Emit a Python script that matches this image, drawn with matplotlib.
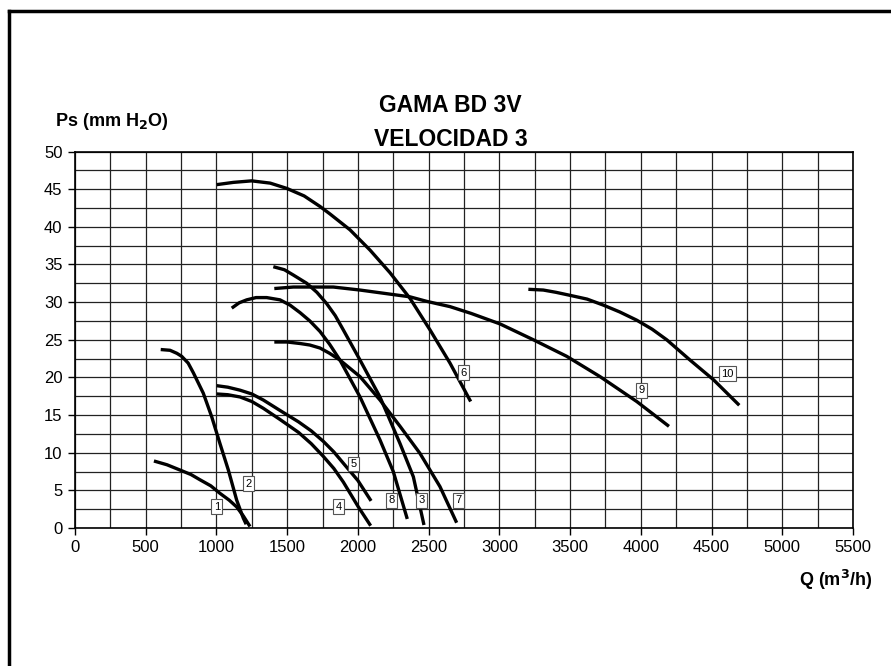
import matplotlib.pyplot as plt
from matplotlib.lines import Line2D
import numpy as np

plt.rcParams['font.family'] = ['Liberation Sans', 'DejaVu Sans']

# curves (Q in m3/h, Ps in mm H2O)
q1 = [558, 650, 742, 820, 884, 960, 1025, 1090, 1143, 1190, 1237]
p1 = [8.9, 8.4, 7.7, 7.1, 6.4, 5.6, 4.6, 3.7, 2.8, 1.6, 0.2]

q2 = [606, 672, 720, 754, 800, 837, 907, 966, 1025, 1084, 1143, 1190, 1210]
p2 = [23.7, 23.6, 23.2, 22.8, 21.9, 20.6, 17.9, 14.8, 11.2, 7.7, 3.7, 1.3, 0.5]

q3 = [1402, 1480, 1543, 1638, 1710, 1779, 1840, 1897, 2015, 2156, 2298, 2392, 2467]
p3 = [34.7, 34.3, 33.6, 32.5, 31.3, 29.8, 28.2, 26.3, 22.3, 17.4, 11.2, 6.8, 0.4]

q4 = [1002, 1080, 1167, 1250, 1331, 1450, 1580, 1670, 1756, 1830, 1897, 2003, 2090]
p4 = [17.8, 17.7, 17.4, 16.8, 15.9, 14.4, 12.7, 11.2, 9.5, 7.9, 6.1, 2.8, 0.3]

q5 = [1002, 1080, 1167, 1250, 1331, 1450, 1580, 1670, 1756, 1830, 1897, 2000, 2093]
p5 = [18.9, 18.7, 18.3, 17.8, 17.0, 15.6, 14.1, 12.9, 11.5, 10.1, 8.6, 6.3, 3.6]

q6 = [1002, 1120, 1249, 1380, 1497, 1620, 1732, 1803, 1944, 2086, 2227, 2368, 2510, 2651, 2797]
p6 = [45.6, 45.9, 46.1, 45.8, 45.1, 44.1, 42.7, 41.7, 39.6, 36.9, 33.9, 30.5, 26.3, 21.9, 16.8]

q7 = [1409, 1500, 1591, 1660, 1732, 1800, 1873, 2015, 2156, 2298, 2439, 2580, 2698]
p7 = [24.7, 24.7, 24.5, 24.3, 23.9, 23.2, 22.3, 20.1, 17.0, 13.5, 9.9, 5.5, 0.7]

q8 = [1108, 1160, 1214, 1280, 1355, 1449, 1520, 1591, 1660, 1732, 1800, 1873, 2015, 2156, 2250, 2349]
p8 = [29.2, 29.9, 30.3, 30.6, 30.6, 30.3, 29.6, 28.6, 27.5, 26.1, 24.4, 22.3, 17.4, 11.7, 7.5, 1.2]

q9 = [1409, 1543, 1700, 1826, 2015, 2250, 2368, 2486, 2651, 2800, 3005, 3240, 3476, 3712, 3971, 4199]
p9 = [31.8, 32.0, 32.0, 32.0, 31.6, 31.0, 30.7, 30.1, 29.4, 28.5, 27.1, 25.0, 22.8, 20.1, 16.8, 13.5]

q10 = [3205, 3311, 3400, 3499, 3620, 3735, 3850, 3971, 4080, 4183, 4348, 4513, 4696]
p10 = [31.7, 31.6, 31.3, 30.9, 30.4, 29.6, 28.7, 27.6, 26.4, 25.0, 22.3, 19.7, 16.3]

curves = [(q1, p1), (q2, p2), (q3, p3), (q4, p4), (q5, p5),
          (q6, p6), (q7, p7), (q8, p8), (q9, p9), (q10, p10)]

# number tags
tag_names = ["1", "2", "3", "4", "5", "6", "7", "8", "9", "10"]
tag_q = [1002, 1225, 2451, 1862, 1968, 2745, 2710, 2239, 4006, 4614]
tag_p = [2.8, 5.9, 3.7, 2.8, 8.5, 20.6, 3.7, 3.7, 18.3, 20.5]

W, H = 891, 666
fig = plt.figure(figsize=(W / 100, H / 100), dpi=100)
ax = fig.add_axes([75 / W, 1 - 528 / H, (853 - 75) / W, (528 - 151.5) / H])

ax.set_xlim(0, 5500)
ax.set_ylim(0, 50)
ax.set_xticks(np.arange(0, 5501, 500))
ax.set_yticks(np.arange(0, 51, 5))
ax.set_xticks(np.arange(0, 5501, 250), minor=True)
ax.set_yticks(np.arange(0, 51, 2.5), minor=True)
ax.grid(which='both', color='#222222', linewidth=0.9)
ax.set_axisbelow(True)
ax.tick_params(which='major', direction='out', length=5, width=1, labelsize=12, pad=4)
ax.tick_params(which='minor', length=0)
for s in ax.spines.values():
    s.set_linewidth(1.2)

for q, p in curves:
    ax.plot(q, p, color='black', linewidth=2.4, solid_capstyle='butt')

for name, q, p in zip(tag_names, tag_q, tag_p):
    ax.text(q, p, name, fontsize=8, ha='center', va='center',
            bbox=dict(boxstyle='square,pad=0.22', facecolor='white',
                      edgecolor='#555555', linewidth=0.8))

fig.text(450 / W, 1 - 106 / H, "GAMA BD 3V", fontsize=16.5, fontweight='bold',
         ha='center', va='center')
fig.text(451 / W, 1 - 139 / H, "VELOCIDAD 3", fontsize=16.5, fontweight='bold',
         ha='center', va='center')
fig.text(55 / W, 1 - 121 / H, r"Ps (mm H$_\mathbf{2}$O)", fontsize=13, fontweight='bold',
         ha='left', va='center')
fig.text(872 / W, 1 - 580 / H, r"Q (m$^\mathbf{3}$/h)", fontsize=13, fontweight='bold',
         ha='right', va='center')

# outer frame (only left and top edges visible)
fig.add_artist(Line2D([9 / W, 9 / W], [-0.1, 1 - 11 / H], color='black', linewidth=2.5,
                      transform=fig.transFigure))
fig.add_artist(Line2D([9 / W, 1.1], [1 - 11 / H, 1 - 11 / H], color='black', linewidth=2.5,
                      transform=fig.transFigure))

fig.savefig("out.png", dpi=100)
